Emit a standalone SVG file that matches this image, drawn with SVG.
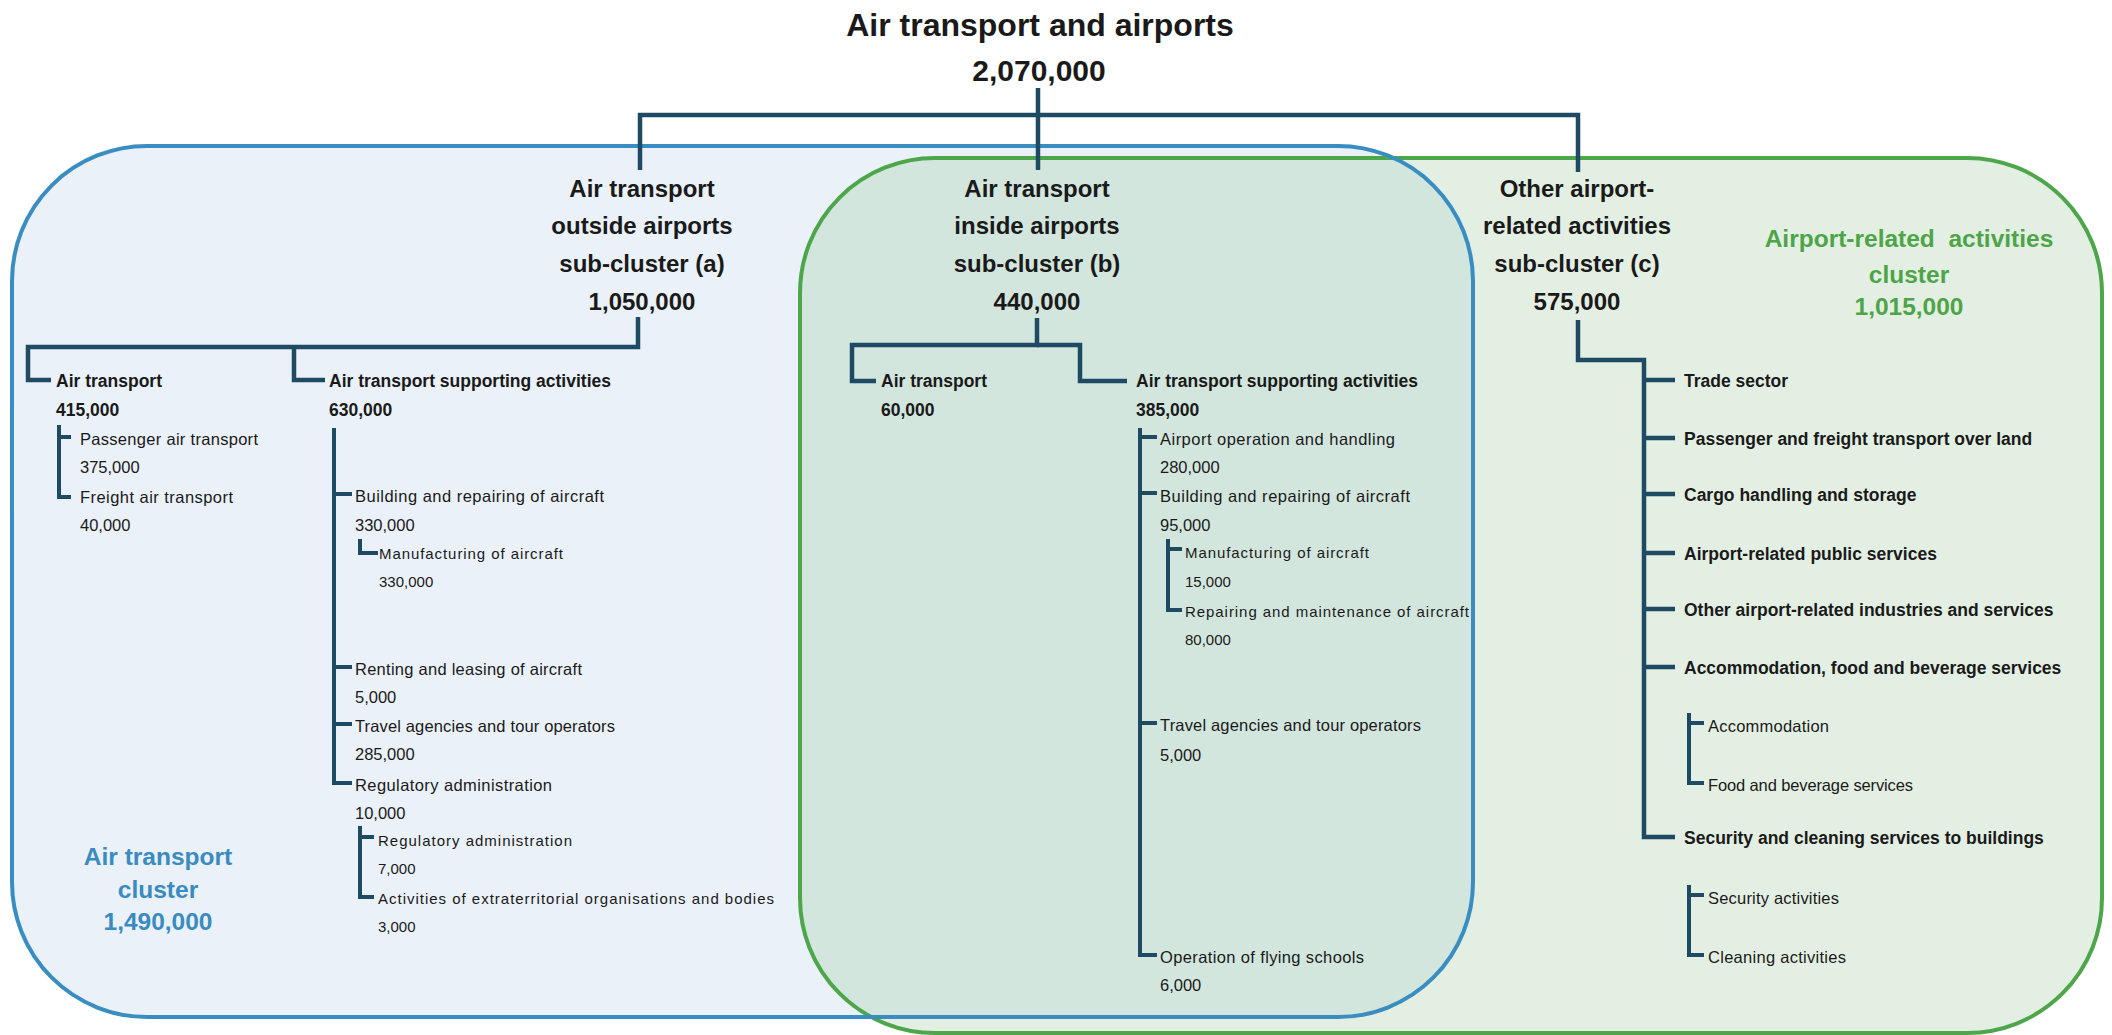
<svg xmlns="http://www.w3.org/2000/svg" width="2112" height="1035" viewBox="0 0 2112 1035">
<style>
text{font-family:"Liberation Sans",Arial,sans-serif;fill:#1a1a1a}
.t{font-size:32px;font-weight:bold;text-anchor:middle}
.tn{font-size:30px;font-weight:bold;text-anchor:middle}
.h{font-size:24px;font-weight:bold;text-anchor:middle}
.b{font-size:17.5px;font-weight:bold}
.r{font-size:16.5px}
.s{font-size:15px}
.cb{font-size:24.5px;font-weight:bold;text-anchor:middle;fill:#3a8bbf}
.cg{font-size:24.5px;font-weight:bold;text-anchor:middle;fill:#4da548}
.c{fill:none;stroke:#1f4a63;stroke-width:4.5;stroke-linejoin:miter;stroke-linecap:butt}
.c2{fill:none;stroke:#1f4a63;stroke-width:4}
</style>
<defs>
<clipPath id="blueClip"><rect x="12" y="146" width="1461" height="871" rx="135" ry="135"/></clipPath>
</defs>
<rect width="2112" height="1035" fill="#ffffff"/>
<g id="clusters">
<rect id="blue-fill" x="12" y="146" width="1461" height="871" rx="135" ry="135" fill="#eaf1f8"/>
<rect id="green-fill" x="800" y="158" width="1302" height="875" rx="135" ry="135" fill="#e4efe3"/>
<rect id="overlap-fill" x="800" y="158" width="1302" height="875" rx="135" ry="135" fill="#d3e6de" clip-path="url(#blueClip)"/>
<rect id="green-stroke" x="800" y="158" width="1302" height="875" rx="135" ry="135" fill="none" stroke="#4ea64b" stroke-width="4"/>
<rect id="blue-stroke" x="12" y="146" width="1461" height="871" rx="135" ry="135" fill="none" stroke="#3a8dc1" stroke-width="4"/>
</g>
<g id="connectors">
<path class="c" d="M1038,88 V170"/>
<path class="c" d="M640,170 V115 H1578 V172"/>
<path class="c" d="M638,317 V347 H28 V380 H51"/>
<path class="c" d="M294,347 V380 H325"/>
<path class="c" d="M1037,318 V345 H852 V381 H876"/>
<path class="c" d="M1037,345 H1080 V381 H1127"/>
<path class="c" d="M1578,320 V360 H1644 V837 H1675"/>
<path class="c" d="M1644,380 H1675 M1644,438 H1675 M1644,494 H1675 M1644,553 H1675 M1644,609 H1675 M1644,667 H1675"/>
<path class="c2" d="M59,425 V497 H71 M59,437 H71"/>
<path class="c2" d="M334,428 V783 H352 M334,494 H352 M334,667 H352 M334,724 H352"/>
<path class="c2" d="M360,539 V553 H378"/>
<path class="c2" d="M360,826 V897 H374 M360,837 H374"/>
<path class="c2" d="M1140,428 V955 H1157 M1140,437 H1157 M1140,493 H1157 M1140,723 H1157"/>
<path class="c2" d="M1168,539 V610 H1182 M1168,549 H1182"/>
<path class="c2" d="M1689,713 V783 H1704 M1689,723 H1704"/>
<path class="c2" d="M1689,885 V955 H1704 M1689,895 H1704"/>
</g>
<g id="root">
<text class="t" x="1040" y="36">Air transport and airports</text>
<text class="tn" x="1039" y="81">2,070,000</text>
</g>
<g id="sub-a">
<text class="h" x="642" y="197">Air transport</text>
<text class="h" x="642" y="234">outside airports</text>
<text class="h" x="642" y="272">sub-cluster (a)</text>
<text class="h" x="642" y="310">1,050,000</text>
</g>
<g id="sub-b">
<text class="h" x="1037" y="197">Air transport</text>
<text class="h" x="1037" y="234">inside airports</text>
<text class="h" x="1037" y="272">sub-cluster (b)</text>
<text class="h" x="1037" y="310">440,000</text>
</g>
<g id="sub-c">
<text class="h" x="1577" y="197">Other airport-</text>
<text class="h" x="1577" y="234">related activities</text>
<text class="h" x="1577" y="272">sub-cluster (c)</text>
<text class="h" x="1577" y="310">575,000</text>
</g>
<g id="cluster-air-transport">
<text class="cb" x="158" y="865">Air transport</text>
<text class="cb" x="158" y="898">cluster</text>
<text class="cb" x="158" y="930">1,490,000</text>
</g>
<g id="cluster-airport-related">
<text class="cg" x="1909" y="247">Airport-related&#160; activities</text>
<text class="cg" x="1909" y="283">cluster</text>
<text class="cg" x="1909" y="315">1,015,000</text>
</g>
<g id="a-air-transport">
<text class="b" x="56" y="387">Air transport</text>
<text class="b" x="56" y="416">415,000</text>
</g>
<g id="a-passenger">
<text class="r" x="80" y="445" textLength="178">Passenger air transport</text>
<text class="r" x="80" y="473">375,000</text>
</g>
<g id="a-freight">
<text class="r" x="80" y="503" textLength="153">Freight air transport</text>
<text class="r" x="80" y="531">40,000</text>
</g>
<g id="a-supporting">
<text class="b" x="329" y="387">Air transport supporting activities</text>
<text class="b" x="329" y="416">630,000</text>
</g>
<g id="a-building">
<text class="r" x="355" y="502" textLength="249">Building and repairing of aircraft</text>
<text class="r" x="355" y="531">330,000</text>
</g>
<g id="a-manufacturing">
<text class="s" x="379" y="559" textLength="184">Manufacturing of aircraft</text>
<text class="s" x="379" y="587">330,000</text>
</g>
<g id="a-renting">
<text class="r" x="355" y="675" textLength="227">Renting and leasing of aircraft</text>
<text class="r" x="355" y="703">5,000</text>
</g>
<g id="a-travel">
<text class="r" x="355" y="732" textLength="260">Travel agencies and tour operators</text>
<text class="r" x="355" y="760">285,000</text>
</g>
<g id="a-regulatory">
<text class="r" x="355" y="791" textLength="197">Regulatory administration</text>
<text class="r" x="355" y="819">10,000</text>
</g>
<g id="a-regulatory-sub">
<text class="s" x="378" y="846" textLength="194">Regulatory administration</text>
<text class="s" x="378" y="874">7,000</text>
</g>
<g id="a-extraterritorial">
<text class="s" x="378" y="904" textLength="396">Activities of extraterritorial organisations and bodies</text>
<text class="s" x="378" y="932">3,000</text>
</g>
<g id="b-air-transport">
<text class="b" x="881" y="387">Air transport</text>
<text class="b" x="881" y="416">60,000</text>
</g>
<g id="b-supporting">
<text class="b" x="1136" y="387">Air transport supporting activities</text>
<text class="b" x="1136" y="416">385,000</text>
</g>
<g id="b-airport-operation">
<text class="r" x="1160" y="445" textLength="235">Airport operation and handling</text>
<text class="r" x="1160" y="473">280,000</text>
</g>
<g id="b-building">
<text class="r" x="1160" y="502" textLength="250">Building and repairing of aircraft</text>
<text class="r" x="1160" y="531">95,000</text>
</g>
<g id="b-manufacturing">
<text class="s" x="1185" y="558" textLength="184">Manufacturing of aircraft</text>
<text class="s" x="1185" y="587">15,000</text>
</g>
<g id="b-repairing">
<text class="s" x="1185" y="617" textLength="284">Repairing and maintenance of aircraft</text>
<text class="s" x="1185" y="645">80,000</text>
</g>
<g id="b-travel">
<text class="r" x="1160" y="731" textLength="261">Travel agencies and tour operators</text>
<text class="r" x="1160" y="761">5,000</text>
</g>
<g id="b-flying-schools">
<text class="r" x="1160" y="963" textLength="204">Operation of flying schools</text>
<text class="r" x="1160" y="991">6,000</text>
</g>
<g id="c-trade"><text class="b" x="1684" y="387">Trade sector</text></g>
<g id="c-land"><text class="b" x="1684" y="445">Passenger and freight transport over land</text></g>
<g id="c-cargo"><text class="b" x="1684" y="501">Cargo handling and storage</text></g>
<g id="c-public"><text class="b" x="1684" y="560">Airport-related public services</text></g>
<g id="c-other"><text class="b" x="1684" y="616">Other airport-related industries and services</text></g>
<g id="c-accommodation-food"><text class="b" x="1684" y="674">Accommodation, food and beverage services</text></g>
<g id="c-accommodation"><text class="r" x="1708" y="732" textLength="121">Accommodation</text></g>
<g id="c-food"><text class="r" x="1708" y="791" textLength="205">Food and beverage services</text></g>
<g id="c-security-cleaning"><text class="b" x="1684" y="844">Security and cleaning services to buildings</text></g>
<g id="c-security"><text class="r" x="1708" y="904" textLength="131">Security activities</text></g>
<g id="c-cleaning"><text class="r" x="1708" y="963" textLength="138">Cleaning activities</text></g>
</svg>
